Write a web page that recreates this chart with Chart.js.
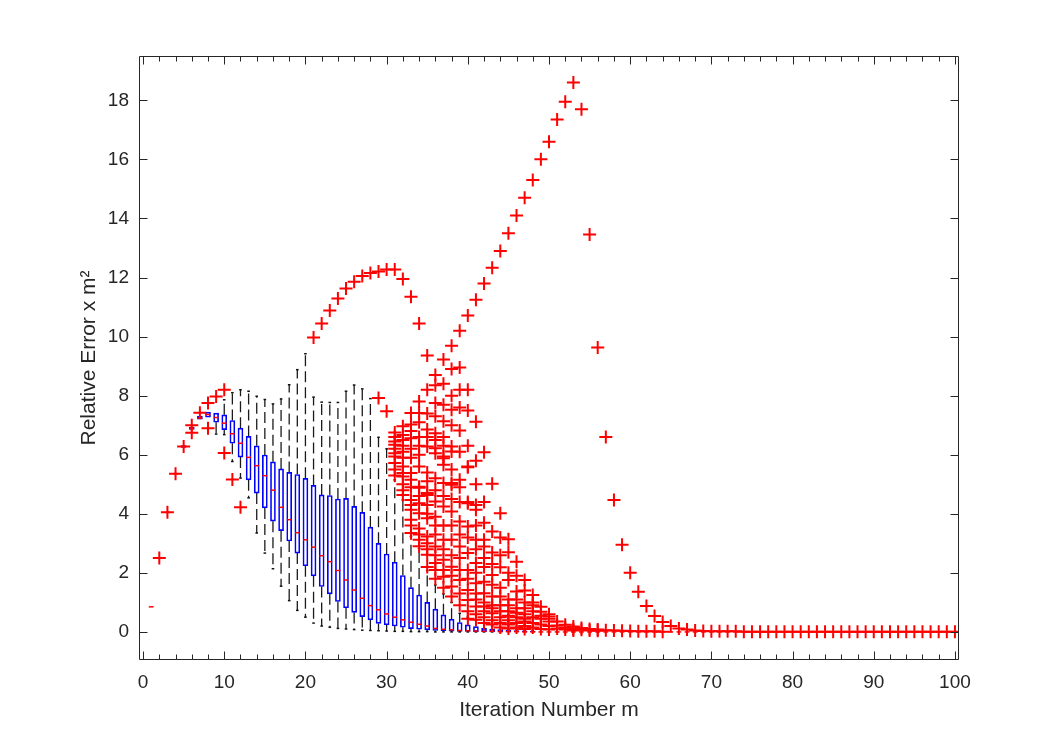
<!DOCTYPE html>
<html>
<head>
<meta charset="utf-8">
<script src="https://cdn.jsdelivr.net/npm/chart.js@4.4.1/dist/chart.umd.min.js"></script>
<style>
  html, body { margin: 0; padding: 0; background: #fff; }
</style>
</head>
<body>
<canvas id="boxChart" width="1060" height="742"></canvas>
<script>
// group positions (iteration number m)
const iterations = [
  1, 2, 3, 4, 5, 6, 7, 8, 9, 10, 11, 12, 13, 14, 15, 16, 17, 18, 19, 20,
  21, 22, 23, 24, 25, 26, 27, 28, 29, 30, 31, 32, 33, 34, 35, 36, 37, 38, 39, 40,
  41, 42, 43, 44, 45, 46, 47, 48, 49, 50, 51, 52, 53, 54, 55, 56, 57, 58, 59, 60,
  61, 62, 63, 64, 65, 66, 67, 68, 69, 70, 71, 72, 73, 74, 75, 76, 77, 78, 79, 80,
  81, 82, 83, 84, 85, 86, 87, 88, 89, 90, 91, 92, 93, 94, 95, 96, 97, 98, 99, 100
];

// box statistics (lower whisker, q1, median, q3, upper whisker)
const whiskerLow = [
  0.85, 2.5, 4.05, 5.36, 6.28, 6.86, 7.2, 7.27, 6.7, 6.68,
  5.77, 5.21, 4.54, 3.35, 2.67, 2.14, 1.55, 1.06, 0.73, 0.5,
  0.3, 0.2, 0.16, 0.12, 0.1, 0.08, 0.06, 0.05, 0.04, 0.03,
  0.02, 0.02, 0.01, 0.01, 0.01, 0, 0, 0, 0, 0,
  0, 0, 0, 0, 0, 0, 0, 0, 0, 0, 0, 0, 0, 0, 0, 0, 0, 0, 0, 0,
  0, 0, 0, 0, 0, 0, 0, 0, 0, 0, 0, 0, 0, 0, 0, 0, 0, 0, 0, 0,
  0, 0, 0, 0, 0, 0, 0, 0, 0, 0, 0, 0, 0, 0, 0, 0, 0, 0, 0, 0
];
const quart1 = [
  0.85, 2.5, 4.05, 5.36, 6.25, 6.86, 7.2, 7.27, 7.1, 6.85,
  6.39, 5.92, 5.15, 4.7, 4.2, 3.75, 3.43, 3.08, 2.67, 2.24,
  1.9, 1.54, 1.29, 1.03, 0.82, 0.66, 0.52, 0.41, 0.29, 0.24,
  0.2, 0.16, 0.11, 0.09, 0.07, 0.05, 0.04, 0.03, 0.02, 0.02,
  0.01, 0.01, 0.01, 0, 0, 0, 0, 0, 0, 0, 0, 0, 0, 0, 0, 0, 0, 0, 0, 0,
  0, 0, 0, 0, 0, 0, 0, 0, 0, 0, 0, 0, 0, 0, 0, 0, 0, 0, 0, 0,
  0, 0, 0, 0, 0, 0, 0, 0, 0, 0, 0, 0, 0, 0, 0, 0, 0, 0, 0, 0
];
const medians = [
  0.85, 2.5, 4.05, 5.36, 6.28, 6.9, 7.24, 7.36, 7.26, 7.07,
  6.71, 6.39, 5.91, 5.63, 5.29, 4.8, 4.22, 3.8, 3.36, 3.12,
  2.87, 2.58, 2.38, 2.08, 1.76, 1.42, 1.14, 0.89, 0.75, 0.61,
  0.5, 0.41, 0.33, 0.26, 0.2, 0.12, 0.09, 0.07, 0.05, 0.04,
  0.03, 0.02, 0.02, 0.01, 0.01, 0.01, 0, 0, 0, 0, 0, 0, 0, 0, 0, 0, 0, 0, 0, 0,
  0, 0, 0, 0, 0, 0, 0, 0, 0, 0, 0, 0, 0, 0, 0, 0, 0, 0, 0, 0,
  0, 0, 0, 0, 0, 0, 0, 0, 0, 0, 0, 0, 0, 0, 0, 0, 0, 0, 0, 0
];
const quart3 = [
  0.85, 2.5, 4.05, 5.36, 6.31, 6.94, 7.3, 7.44, 7.41, 7.35,
  7.16, 6.9, 6.62, 6.3, 5.99, 5.76, 5.52, 5.4, 5.33, 5.2,
  4.96, 4.64, 4.62, 4.5, 4.52, 4.25, 4.05, 3.55, 3.0, 2.64,
  2.36, 1.91, 1.5, 1.25, 1.0, 0.77, 0.58, 0.43, 0.32, 0.24,
  0.18, 0.12, 0.1, 0.08, 0.06, 0.05, 0.04, 0.03, 0, 0, 0, 0, 0, 0, 0, 0, 0, 0, 0, 0,
  0, 0, 0, 0, 0, 0, 0, 0, 0, 0, 0, 0, 0, 0, 0, 0, 0, 0, 0, 0,
  0, 0, 0, 0, 0, 0, 0, 0, 0, 0, 0, 0, 0, 0, 0, 0, 0, 0, 0, 0
];
const whiskerHigh = [
  0.85, 2.5, 4.05, 5.36, 6.31, 6.94, 7.3, 7.44, 7.41, 7.86,
  8.1, 8.2, 8.15, 7.98, 7.87, 7.72, 7.89, 8.37, 8.88, 9.42,
  7.95, 7.78, 7.77, 7.77, 8.15, 8.36, 8.23, 7.9, 6.59, 6.2,
  5.15, 4.47, 3.23, 2.83, 2.08, 1.59, 1.29, 1.0, 0.63, 0.5,
  0.4, 0.3, 0.2, 0.15, 0.1, 0.08, 0.06, 0.05, 0, 0, 0, 0, 0, 0, 0, 0, 0, 0, 0, 0,
  0, 0, 0, 0, 0, 0, 0, 0, 0, 0, 0, 0, 0, 0, 0, 0, 0, 0, 0, 0,
  0, 0, 0, 0, 0, 0, 0, 0, 0, 0, 0, 0, 0, 0, 0, 0, 0, 0, 0, 0
];

// outliers per group, same order as iterations
const outliers = [
  [], [2.5], [4.05], [5.36], [6.28], [7.0, 6.74], [7.42], [7.75, 6.9], [7.97], [8.2, 6.06],
  [5.16], [4.22], [], [], [], [], [], [], [], [],
  [9.97], [10.44], [10.88], [11.29], [11.63], [11.86], [12.05], [12.15], [12.2, 7.92], [12.27, 7.47],
  [12.27, 6.75, 6.6, 6.45, 6.34, 6.2, 6.05, 5.94, 5.72, 5.5, 5.3],
  [11.95, 6.96, 6.67, 6.5, 6.3, 6.1, 5.9, 5.6, 5.38, 5.26, 5.0, 4.8, 4.64],
  [11.35, 7.41, 7.02, 6.8, 6.56, 6.2, 5.9, 5.38, 5.15, 4.9, 4.47, 4.3, 4.14, 3.8, 3.6, 3.35],
  [10.44, 7.8, 7.41, 7.1, 6.6, 6.3, 6.0, 5.6, 4.92, 4.88, 4.6, 4.36, 4.02, 3.5, 3.3, 3.12, 2.9],
  [9.36, 8.2, 7.4, 6.85, 6.6, 6.28, 5.4, 5.1, 4.7, 4.64, 4.3, 4.0, 3.85, 3.23, 3.0, 2.8, 2.61, 2.2],
  [8.7, 8.35, 7.75, 7.3, 6.73, 6.5, 6.22, 6.05, 5.2, 4.8, 4.42, 3.9, 3.6, 3.3, 2.89, 2.6, 2.33, 2.1, 1.8],
  [9.22, 8.4, 7.69, 7.13, 6.6, 6.3, 5.94, 5.88, 5.66, 5.04, 4.6, 4.25, 3.6, 3.12, 2.8, 2.44, 2.1, 1.87, 1.5],
  [9.69, 8.9, 8.0, 7.52, 7.0, 6.28, 6.11, 5.5, 5.04, 4.98, 4.5, 4.08, 3.6, 3.12, 2.6, 2.21, 1.9, 1.54, 1.2],
  [10.2, 8.95, 8.2, 7.6, 6.82, 6.1, 5.15, 4.9, 4.4, 3.74, 3.3, 2.89, 2.5, 2.1, 1.76, 1.3, 0.9],
  [10.71, 8.2, 7.5, 6.3, 5.6, 5.58, 4.4, 4.36, 3.57, 3.2, 2.67, 2.1, 1.8, 1.42, 1.08, 0.7, 0.45],
  [11.25, 7.12, 5.8, 5.0, 4.3, 4.14, 3.6, 3.12, 2.8, 2.33, 2.0, 1.65, 1.3, 1.1, 0.86, 0.6, 0.41],
  [11.8, 6.08, 4.4, 3.7, 3.12, 2.89, 2.5, 2.2, 1.7, 1.31, 1.0, 0.86, 0.7, 0.5, 0.3],
  [12.33, 5.02, 3.4, 2.69, 2.3, 1.93, 1.6, 1.2, 0.9, 0.8, 0.63, 0.4, 0.25],
  [12.9, 4.02, 3.2, 2.6, 2.19, 1.5, 1.2, 0.9, 0.7, 0.5, 0.3, 0.15],
  [13.5, 3.14, 2.7, 2.0, 1.76, 1.1, 0.9, 0.7, 0.55, 0.4, 0.25, 0.12],
  [14.1, 2.38, 1.9, 1.37, 1.1, 0.8, 0.65, 0.5, 0.3, 0.15],
  [14.7, 1.76, 1.4, 1.0, 0.8, 0.6, 0.45, 0.35, 0.2, 0.1],
  [15.3, 1.25, 1.0, 0.9, 0.7, 0.5, 0.3, 0.15],
  [16.0, 0.85, 0.68, 0.55, 0.45, 0.25, 0.1],
  [16.6, 0.6, 0.52, 0.45, 0.35, 0.2, 0.08],
  [17.35, 0.35, 0.22, 0.12],
  [17.95, 0.24, 0.15, 0.08],
  [18.6, 0.18, 0.1, 0.05],
  [17.7, 0.13, 0.07],
  [13.46, 0.1, 0.05],
  [9.63, 0.08, 0.04],
  [6.6, 0.06], [4.47, 0.05], [2.95, 0.04], [2.0, 0.03],
  [1.36, 0.02], [0.88, 0.02], [0.54, 0.02], [0.34, 0.01], [0.2], [0.12], [0.08], [0.05], [0.03], [0.02],
  [0.02], [0.02], [0.02], [0.01], [0.01], [0.01], [0.01], [0.01], [0.01], [0.01],
  [0.01], [0.01], [0.01], [0.01], [0.01], [0.01], [0.01], [0.01], [0.01], [0.01],
  [0.01], [0.01], [0.01], [0.01], [0.01], [0.01], [0.01], [0.01], [0.01], [0.01]
];

const xTickLabels = [0, 10, 20, 30, 40, 50, 60, 70, 80, 90, 100];
const yTickLabels = [0, 2, 4, 6, 8, 10, 12, 14, 16, 18];

const FONT = '"Liberation Sans", Helvetica, Arial, sans-serif';
const AXIS_COLOR = '#262626';

// build the pieces of the boxplot
const boxes = [];
const whiskers = [];
const caps = [];
const medianPts = [];
const outlierPts = [];
iterations.forEach((m, i) => {
  if (quart3[i] > quart1[i]) boxes.push({ x: m, y: [quart1[i], quart3[i]] });
  medianPts.push({ x: m, y: medians[i] });
  if (whiskerHigh[i] > quart3[i]) {
    whiskers.push({ x: m, y: quart3[i] }, { x: m, y: whiskerHigh[i] }, { x: m, y: null });
    caps.push({ x: m, y: whiskerHigh[i] });
  }
  if (whiskerLow[i] < quart1[i]) {
    whiskers.push({ x: m, y: quart1[i] }, { x: m, y: whiskerLow[i] }, { x: m, y: null });
    caps.push({ x: m, y: whiskerLow[i] });
  }
  outliers[i].forEach(v => outlierPts.push({ x: m, y: v }));
});

// matlab style frame with inward ticks on all four sides
const frameTicks = {
  id: 'frameTicks',
  afterDraw(chart) {
    const { ctx, chartArea: a, scales: { x, y } } = chart;
    const L = Math.round(a.left) + 0.5, R = Math.round(a.right) - 0.5;
    const T = Math.round(a.top) + 0.5, B = Math.round(a.bottom) - 0.5;
    ctx.save();
    ctx.strokeStyle = AXIS_COLOR;
    ctx.lineWidth = 1;
    ctx.beginPath();
    ctx.rect(L, T, R - L, B - T);
    for (let v = 0; v <= 100; v += 2) {
      const px = Math.round(x.getPixelForValue(v)) + 0.5;
      const len = v % 10 === 0 ? 8 : 5;
      ctx.moveTo(px, B); ctx.lineTo(px, B - len);
      ctx.moveTo(px, T); ctx.lineTo(px, T + len);
    }
    yTickLabels.forEach(v => {
      const py = Math.round(y.getPixelForValue(v)) + 0.5;
      ctx.moveTo(L, py); ctx.lineTo(L + 8, py);
      ctx.moveTo(R, py); ctx.lineTo(R - 8, py);
    });
    ctx.stroke();
    ctx.restore();
  }
};

const ctx = document.getElementById('boxChart');
const boxChart = new Chart(ctx, {
  type: 'bar',
  data: {
    datasets: [
      {
        type: 'scatter',
        data: outlierPts,
        pointStyle: 'cross',
        pointRadius: 6.5,
        borderColor: '#ff0000',
        backgroundColor: '#ff0000',
        borderWidth: 2,
        order: 0,
      },
      {
        type: 'scatter',
        data: medianPts,
        pointStyle: 'line',
        pointRadius: 2.4,
        borderColor: '#ff0000',
        borderWidth: 1.5,
        order: 1,
      },
      {
        type: 'scatter',
        data: caps,
        pointStyle: 'line',
        pointRadius: 1.3,
        borderColor: '#111111',
        borderWidth: 1.5,
        order: 2,
      },
      {
        type: 'bar',
        data: boxes,
        barThickness: 5,
        borderSkipped: false,
        borderColor: '#0000ff',
        backgroundColor: 'rgba(0, 0, 0, 0)',
        borderWidth: 1,
        order: 3,
      },
      {
        type: 'scatter',
        data: whiskers,
        showLine: true,
        spanGaps: false,
        pointRadius: 0,
        borderColor: '#1a1a1a',
        borderWidth: 1.3,
        borderDash: [11, 5],
        order: 4,
      },
    ],
  },
  options: {
    responsive: false,
    animation: false,
    devicePixelRatio: 1,
    layout: { padding: { left: 77, right: 101, top: 56, bottom: 19 } },
    plugins: {
      legend: { display: false },
      tooltip: { enabled: false },
    },
    scales: {
      x: {
        type: 'linear',
        min: -0.5,
        max: 100.5,
        offset: false,
        afterBuildTicks: s => { s.ticks = xTickLabels.map(v => ({ value: v })); },
        afterFit: s => { s.height = 63; },
        grid: { display: false, drawTicks: false },
        border: { display: false },
        ticks: {
          padding: 11,
          color: AXIS_COLOR,
          maxRotation: 0,
          autoSkip: false,
          font: { family: FONT, size: 19 },
        },
        title: {
          display: true,
          text: 'Iteration Number m',
          color: AXIS_COLOR,
          padding: 0,
          font: { family: FONT, size: 21 },
        },
      },
      y: {
        type: 'linear',
        min: -0.95,
        max: 19.5,
        afterBuildTicks: s => { s.ticks = yTickLabels.map(v => ({ value: v })); },
        afterFit: s => { s.width = 62; },
        grid: { display: false, drawTicks: false },
        border: { display: false },
        ticks: {
          padding: 10,
          color: AXIS_COLOR,
          autoSkip: false,
          font: { family: FONT, size: 19 },
        },
        title: {
          display: true,
          text: 'Relative Error x m²',
          color: AXIS_COLOR,
          padding: 0,
          font: { family: FONT, size: 21 },
        },
      },
    },
  },
  plugins: [frameTicks],
});
</script>
</body>
</html>
